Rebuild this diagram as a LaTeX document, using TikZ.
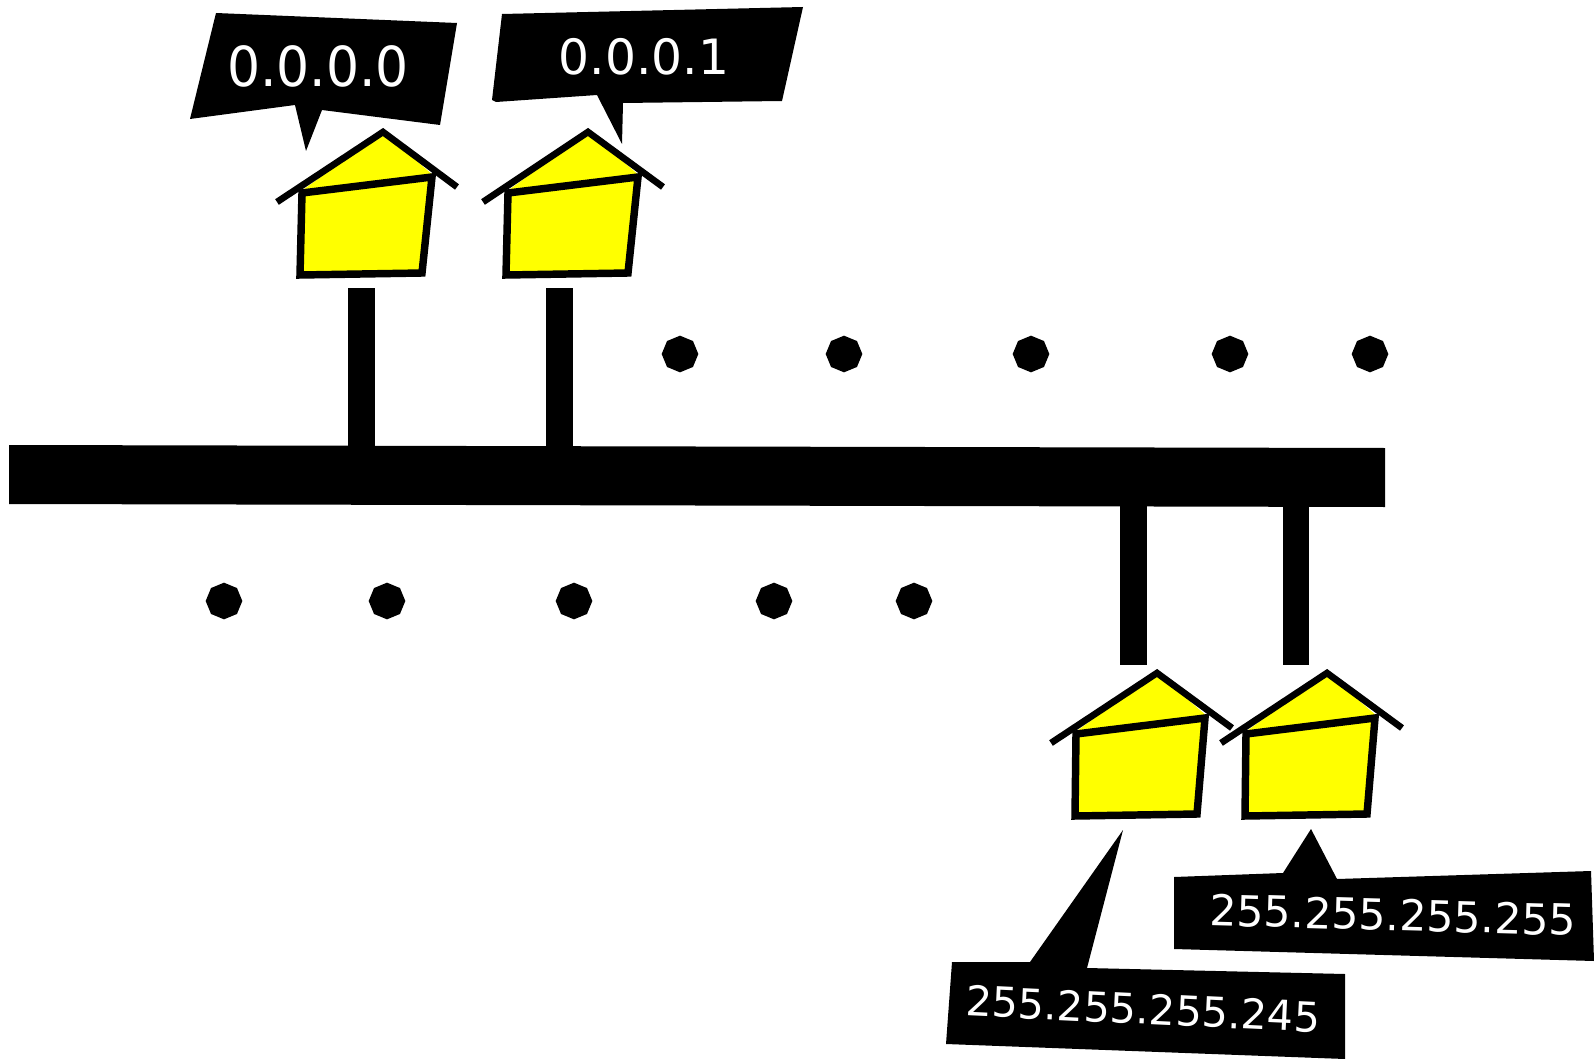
\documentclass[tikz,border=0pt]{standalone}
\usepackage{fontspec}
\setmainfont{DejaVu Sans}
\usetikzlibrary{shapes.geometric}
\definecolor{wallyellow}{RGB}{255,255,0}
\tikzset{
  wallline/.style={draw=black,line width=5.6pt,fill=wallyellow,line join=miter},
  roofline/.style={draw=black,line width=5pt,line cap=butt,line join=miter},
  blackshape/.style={fill=black,draw=none},
  dotmark/.style={regular polygon,regular polygon sides=8,rotate=22.5,fill=black,draw=none,inner sep=0pt,minimum size=27.5pt},
  tagtext/.style={text=white,inner sep=0.75pt,anchor=center}
}

\begin{document}
\begin{tikzpicture}[x=0.75pt,y=0.75pt,yscale=-1,xscale=1]
\useasboundingbox (0,0) rectangle (1594,1059);

%Shape: Bus
\fill [blackshape] (9,445) -- (1385,448) -- (1385,507) -- (9,504) -- cycle ;
%Shape: Stems
\fill [blackshape] (348,288) -- (375,288) -- (375,447) -- (348,447) -- cycle ;
\fill [blackshape] (546,288) -- (573,288) -- (573,447) -- (546,447) -- cycle ;
\fill [blackshape] (1120,505) -- (1147,505) -- (1147,665) -- (1120,665) -- cycle ;
\fill [blackshape] (1283,505) -- (1309,505) -- (1309,665) -- (1283,665) -- cycle ;

%House 1
\fill [wallyellow] (300,192) -- (383,132) -- (434,176) -- cycle ;
\draw [roofline] (277,202) -- (383,132) -- (457,187) ;
\draw [wallline] (302,193) -- (432,177) -- (422,273) -- (300,275) -- cycle ;
%House 2
\fill [wallyellow] (506,192) -- (588,132) -- (640,176) -- cycle ;
\draw [roofline] (483,202) -- (588,132) -- (663,187) ;
\draw [wallline] (508,193) -- (638,177) -- (628,273) -- (506,275) -- cycle ;
%House 3
\fill [wallyellow] (1074,733) -- (1157,673) -- (1208,717) -- cycle ;
\draw [roofline] (1051,743) -- (1157,673) -- (1232,728) ;
\draw [wallline] (1076,734) -- (1205,718) -- (1197,814) -- (1075,816) -- cycle ;
%House 4
\fill [wallyellow] (1244,733) -- (1327,673) -- (1378,717) -- cycle ;
\draw [roofline] (1221,743) -- (1327,673) -- (1402,728) ;
\draw [wallline] (1246,734) -- (1375,718) -- (1367,814) -- (1245,816) -- cycle ;

%Shape: Bubble 1
\fill [blackshape] (216,13) -- (457,23) -- (440,125) -- (322,110) -- (306,151) -- (295,105) -- (190,119) -- cycle ;
%Shape: Bubble 2
\fill [blackshape] (502,14) -- (803,7) -- (782,101) -- (623,103) -- (622,144) -- (597,95) -- (496,102) -- (492,100) -- cycle ;
%Shape: Bubble 3
\fill [blackshape] (952,962) -- (1030,962) -- (1123,830) -- (1087,968) -- (1345,974) -- (1345,1059) -- (946,1044) -- cycle ;
%Shape: Bubble 4
\fill [blackshape] (1174,877) -- (1283,873) -- (1311,829) -- (1337,879) -- (1591,871) -- (1594,961) -- (1174,949) -- cycle ;

%Shape: Dots
\node (dota) [dotmark] at (680,354) {};
\node (dotb) [dotmark] at (844,354) {};
\node (dotc) [dotmark] at (1031,354) {};
\node (dotd) [dotmark] at (1230,354) {};
\node (dote) [dotmark] at (1370,354) {};
\node (dotf) [dotmark] at (224,601) {};
\node (dotg) [dotmark] at (387,601) {};
\node (doth) [dotmark] at (574,601) {};
\node (doti) [dotmark] at (774,601) {};
\node (dotj) [dotmark] at (914,601) {};

% Text Node
\node (firsttag) [tagtext,font=\fontsize{39}{39}\selectfont,yscale=1.06] at (318,66) {0.0.0.0};
% Text Node
\node (secondtag) [tagtext,font=\fontsize{36.5}{36.5}\selectfont] at (644,57) {0.0.0.1};
% Text Node
\node (lasttag) [tagtext,font=\fontsize{31}{31}\selectfont,rotate=-2.7] at (1143,1009) {255.255.255.245};
% Text Node
\node (toptag) [tagtext,font=\fontsize{32}{32}\selectfont,rotate=-1.6] at (1393,915) {255.255.255.255};

\end{tikzpicture}
\end{document}
